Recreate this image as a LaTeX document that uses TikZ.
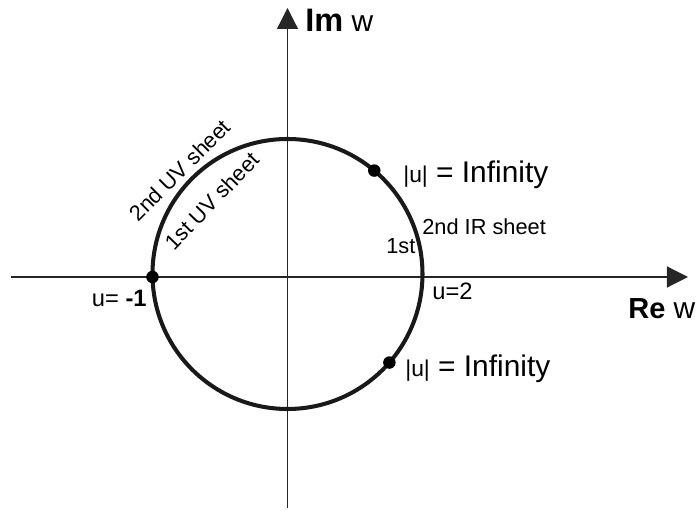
\documentclass[tikz,border=0pt]{standalone}
\usepackage{fontspec}
\setmainfont{Liberation Sans}
\usetikzlibrary{arrows.meta,calc}

\begin{document}
\begin{tikzpicture}[
    axis/.style={
      line width=0.7pt, black!85,
      -{Triangle[length=0.42cm, width=0.42cm]}
    },
    cut/.style={line width=2.3pt, black!90},
    branchpt/.style={
      circle, fill=black, inner sep=0pt, minimum size=0.25cm
    },
    axlbl/.style={inner sep=0pt, anchor=base west, font=\fontsize{17}{20}\selectfont},
    lbl/.style={inner sep=0pt, font=\fontsize{13.5}{16}\selectfont},
    sheetlbl/.style={inner sep=0pt, font=\fontsize{12.4}{15}\selectfont},
    inflbl/.style={inner sep=0pt, anchor=base west, font=\fontsize{17}{20}\selectfont}
  ]
    \useasboundingbox (-5.75,-4.68) rectangle (8.21,5.54);

    \coordinate (o)  at (0,0);
    \coordinate (c)  at (0,0.06);
    \coordinate (xl) at (-5.53,0);
    \coordinate (xr) at (8.01,0);
    \coordinate (yb) at (0,-4.62);
    \coordinate (yt) at (0,5.38);

    \draw[axis] (xl) -- (xr);
    \draw[axis] (yb) -- (yt);
    \draw[cut] (c) circle (2.7);

    \node[branchpt] (pm1)   at (-2.7,0) {};
    \node[branchpt] (pinf1) at ($(c)+(50:2.7)$) {};
    \node[branchpt] (pinf2) at ($(c)+(-41:2.7)$) {};

    \node[axlbl] (imw) at (0.35,4.9) {{\fontsize{18.5}{20}\selectfont\bfseries Im} w};
    \node[axlbl] (rew) at (6.81,-0.84) {{\fontsize{16.5}{20}\selectfont\bfseries Re} w};

    \node[lbl, anchor=base east] (um1) at (-2.81,-0.6) {u= {\bfseries -1}};
    \node[lbl, anchor=base west] (u2)  at (2.89,-0.46) {u=2};

    \node[inflbl] (inf1) at (2.31,1.88) {{\fontsize{13}{16}\selectfont|u|} = Infinity};
    \node[inflbl] (inf2) at (2.35,-2.0) {{\fontsize{13}{16}\selectfont|u|} = Infinity};

    \node[sheetlbl, anchor=base west] (ir2) at (2.69,0.84) {2nd IR sheet};
    \node[sheetlbl, anchor=base west] (ir1) at (1.97,0.46) {1st};

    \node[sheetlbl, rotate=45] (uv2) at (-2.15,2.14) {2nd UV sheet};
    \node[sheetlbl, rotate=46] (uv1) at (-1.51,1.52) {1st UV sheet};
  \end{tikzpicture}
\end{document}
